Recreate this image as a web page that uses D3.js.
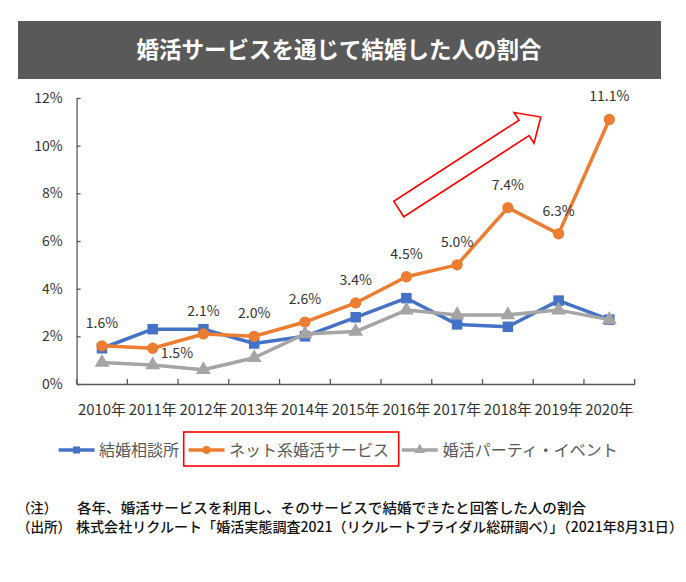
<!DOCTYPE html>
<html><head><meta charset="utf-8">
<script src="https://cdn.jsdelivr.net/npm/d3@7/dist/d3.min.js"></script>
<style>
body{margin:0;background:#fff;}
svg{display:block;}
text{font-family:"Noto Sans CJK JP","Noto Sans",sans-serif;}
</style></head>
<body>
<svg id="chart" width="686" height="582"></svg>
<script>
const title = "婚活サービスを通じて結婚した人の割合";
const years = ["2010年","2011年","2012年","2013年","2014年","2015年","2016年","2017年","2018年","2019年","2020年"];
const agency = [1.5,2.3,2.3,1.7,2.0,2.8,3.6,2.5,2.4,3.5,2.7];
const online = [1.6,1.5,2.1,2.0,2.6,3.4,4.5,5.0,7.4,6.3,11.1];
const party  = [0.9,0.8,0.6,1.1,2.1,2.2,3.1,2.9,2.9,3.1,2.7];
const seriesNames = ["結婚相談所","ネット系婚活サービス","婚活パーティ・イベント"];
const yTicks = [0,2,4,6,8,10,12];
const rightLabelYears = ["2011年"];
const noteLabel = "（注）";
const noteText = "各年、婚活サービスを利用し、そのサービスで結婚できたと回答した人の割合";
const srcLabel = "（出所）";
const srcText = "株式会社リクルート「婚活実態調査2021（リクルートブライダル総研調べ）」（2021年8月31日）";

const svg = d3.select("#chart");
const colors = {agency:"#4472C4", online:"#ED7D31", party:"#A5A5A5"};
const textCol = "#333333";

// title bar
svg.append("rect").attr("x",18).attr("y",21).attr("width",643).attr("height",58)
  .attr("fill","#595959");
svg.append("text").attr("x",339).attr("y",58).attr("text-anchor","middle")
  .attr("fill","#fff").attr("font-size",22.5).attr("font-weight","bold").text(title);

const x = d3.scaleBand().domain(years).range([76.6,634.7]).paddingInner(0).paddingOuter(0);
const y = d3.scaleLinear().domain([0,12]).range([384,98]);
const cx = d => x(d) + x.bandwidth()/2;

// y axis
const yAxis = svg.append("g").attr("transform",`translate(${x.range()[0]},0)`)
  .call(d3.axisLeft(y).tickValues(yTicks).tickFormat(d=>d+"%").tickSize(-4).tickSizeOuter(0).tickPadding(14));
yAxis.select(".domain").attr("stroke","#595959").attr("stroke-width",1.3);
yAxis.selectAll(".tick line").attr("stroke","#595959").attr("stroke-width",1.3);
yAxis.selectAll("text").attr("fill",textCol).attr("font-size",14)
  .attr("font-family","'Open Sans','Noto Sans',sans-serif");

// x axis
const xAxis = svg.append("g").attr("transform",`translate(0,${y(0)})`)
  .call(d3.axisBottom(x).tickSize(0).tickSizeOuter(0).tickPadding(20));
xAxis.select(".domain").attr("stroke","#595959").attr("stroke-width",1.3);
xAxis.selectAll("text").attr("fill",textCol).attr("font-size",15)
  .attr("font-family","'Open Sans','Noto Sans CJK JP',sans-serif")
  .attr("textLength",48).attr("lengthAdjust","spacingAndGlyphs");
const bounds = years.map(d=>x(d)).concat([x.range()[1]]);
svg.append("g").selectAll("line").data(bounds).join("line")
  .attr("x1",d=>d).attr("x2",d=>d).attr("y1",y(0)).attr("y2",y(0)-5)
  .attr("stroke","#595959").attr("stroke-width",1.3);

const line = d3.line().x((d,i)=>cx(years[i])).y(d=>y(d));

function drawSeries(vals,color,marker){
  const g = svg.append("g");
  g.append("path").datum(vals).attr("d",line).attr("fill","none")
    .attr("stroke",color).attr("stroke-width",3.5).attr("stroke-linejoin","round");
  const sym = d3.symbol().type(marker==="square"?d3.symbolSquare:marker==="circle"?d3.symbolCircle:d3.symbolTriangle)
    .size(marker==="square"?110:marker==="circle"?100:95);
  g.selectAll("path.m").data(vals).join("path").attr("class","m")
    .attr("d",sym).attr("fill",color)
    .attr("transform",(d,i)=>`translate(${cx(years[i])},${y(d)})`);
}
drawSeries(agency,colors.agency,"square");
drawSeries(online,colors.online,"circle");
drawSeries(party,colors.party,"triangle");

// data labels for online
svg.append("g").selectAll("text").data(online).join("text")
  .attr("x",(d,i)=> rightLabelYears.includes(years[i]) ? cx(years[i])+8 : cx(years[i]))
  .attr("y",(d,i)=> rightLabelYears.includes(years[i]) ? y(d)+10 : y(d)-18)
  .attr("text-anchor",(d,i)=> rightLabelYears.includes(years[i]) ? "start" : "middle")
  .attr("fill",textCol).attr("font-size",14)
  .attr("font-family","'Open Sans','Noto Sans',sans-serif")
  .text(d=>d.toFixed(1)+"%");

// red arrow annotation (positioned in data space)
(function(){
  const tx = x(years[5]) + x.step()*1.35, ty = y(7.34);
  const px = x(years[8]) + x.step()*1.15, py = y(11.2);
  const dx = px-tx, dy = py-ty, len = Math.hypot(dx,dy);
  const ux = dx/len, uy = dy/len, nx = -uy, ny = ux;
  const w = 9.2, h = 18.3, L = 20;
  const bx = px-ux*L, by = py-uy*L;
  const pts = [
    [tx+nx*w,ty+ny*w],[bx+nx*w,by+ny*w],[bx+nx*h,by+ny*h],[px,py],
    [bx-nx*h,by-ny*h],[bx-nx*w,by-ny*w],[tx-nx*w,ty-ny*w]
  ];
  svg.append("polygon").attr("points",pts.map(p=>p.join(",")).join(" "))
    .attr("fill","#fff").attr("stroke","#FF0000").attr("stroke-width",1.6)
    .attr("stroke-linejoin","miter");
})();

// legend
const legendItems = [
  {name:seriesNames[0],color:colors.agency,m:d3.symbolSquare,s:50,lx:58.6,tx:99},
  {name:seriesNames[1],color:colors.online,m:d3.symbolCircle,s:50,lx:188.5,tx:229},
  {name:seriesNames[2],color:colors.party,m:d3.symbolTriangle,s:50,lx:401.8,tx:442.7}
];
const lg = svg.append("g");
const ly = 450;
legendItems.forEach(it=>{
  lg.append("line").attr("x1",it.lx).attr("x2",it.lx+36).attr("y1",ly).attr("y2",ly)
    .attr("stroke",it.color).attr("stroke-width",3.5);
  lg.append("path").attr("d",d3.symbol().type(it.m).size(it.s)())
    .attr("fill",it.color).attr("transform",`translate(${it.lx+18},${ly})`);
  lg.append("text").attr("x",it.tx).attr("y",ly+5.5).attr("font-size",16)
    .attr("fill","#595959").text(it.name);
});
lg.append("rect").attr("x",183.7).attr("y",432).attr("width",215).attr("height",34)
  .attr("fill","none").attr("stroke","#FF0000").attr("stroke-width",1.6);

// footnotes
const fn = svg.append("g").attr("fill","#111").attr("font-size",14).attr("font-weight",500);
fn.append("text").attr("x",17).attr("y",513).text(noteLabel)
  .attr("textLength",40).attr("lengthAdjust","spacingAndGlyphs");
fn.append("text").attr("x",77).attr("y",513).text(noteText)
  .attr("textLength",509).attr("lengthAdjust","spacingAndGlyphs");
fn.append("text").attr("x",17).attr("y",532).text(srcLabel)
  .attr("textLength",54).attr("lengthAdjust","spacingAndGlyphs");
fn.append("text").attr("x",76).attr("y",532).text(srcText)
  .attr("textLength",607).attr("lengthAdjust","spacingAndGlyphs");
</script>
</body></html>
